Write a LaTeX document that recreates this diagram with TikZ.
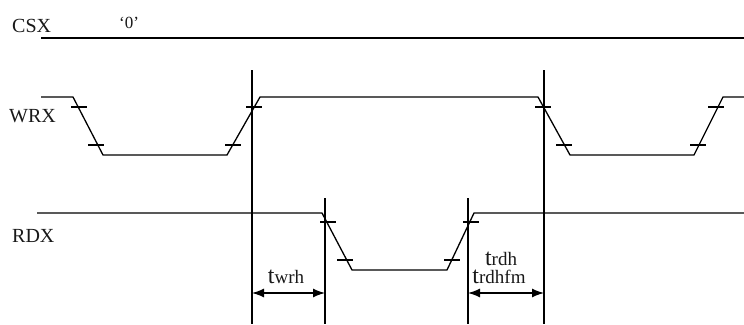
\documentclass[tikz,border=0pt]{standalone}
\usepackage{fontspec}
\setmainfont{Liberation Serif}
\usetikzlibrary{arrows.meta}
\begin{document}
\begin{tikzpicture}[x=1pt,y=-1pt,
  wave/.style={line width=1.3pt,line join=miter},
  tick/.style={line width=1.1pt},
  vline/.style={line width=1.4pt},
  dim/.style={line width=1.3pt,{Latex[length=12pt,width=9pt]}-{Latex[length=12pt,width=9pt]}},
  sig/.style={font=\fontsize{20}{22}\selectfont,anchor=base west,inner sep=0pt,text=black!90},
  tlab/.style={inner sep=0pt,anchor=base,text=black!90}]
\useasboundingbox (0,0) rectangle (744,324);
\fill[white] (0,0) rectangle (744,324);
% labels
\node[sig] (csx) at (12,32) {CSX};
\node[sig] (wrx) at (9,122) {WRX};
\node[sig] (rdx) at (12,242) {RDX};
\node[sig,font=\fontsize{17}{18}\selectfont] (zero) at (119,28) {‘0’};
% CSX
\draw[wave] (41,38) -- (744,38);
% WRX
\draw[wave] (41,97) -- (73,97) -- (103,155) -- (227,155) -- (260,97) -- (538,97) -- (570,155) -- (694,155) -- (723,97) -- (744,97);
\foreach \x/\y in {79/107,96/145,233/145,254/107,543/107,564/145,698/145,716/107}
  \draw[tick] (\x-8,\y) -- (\x+8,\y);
% RDX
\draw[wave] (37,213) -- (322,213) -- (352,270) -- (447,270) -- (474,213) -- (744,213);
\foreach \x/\y in {328/222,345/260,452/260,471/222}
  \draw[tick] (\x-8,\y) -- (\x+8,\y);
% vertical reference lines
\coordinate (v1t) at (252,70); \coordinate (v1b) at (252,324);
\coordinate (v2t) at (325,198); \coordinate (v2b) at (325,324);
\coordinate (v3t) at (468,198); \coordinate (v3b) at (468,324);
\coordinate (v4t) at (544,70); \coordinate (v4b) at (544,324);
\draw[vline] (v1t) -- (v1b);
\draw[vline] (v2t) -- (v2b);
\draw[vline] (v3t) -- (v3b);
\draw[vline] (v4t) -- (v4b);
% dimension arrows
\coordinate (a1) at (252,293); \coordinate (a2) at (325,293);
\coordinate (a3) at (468,293); \coordinate (a4) at (544,293);
\draw[dim] (a1) -- (a2);
\draw[dim] (a3) -- (a4);
\node[tlab] (twrh) at (286,283) {\fontsize{24}{24}\selectfont t\fontsize{19}{20}\selectfont wrh};
\node[tlab] (trdh) at (501,265) {\fontsize{24}{24}\selectfont t\fontsize{19}{20}\selectfont rdh};
\node[tlab] (trdhfm) at (499,283) {\fontsize{24}{24}\selectfont t\fontsize{19}{20}\selectfont rdhfm};
\end{tikzpicture}
\end{document}
